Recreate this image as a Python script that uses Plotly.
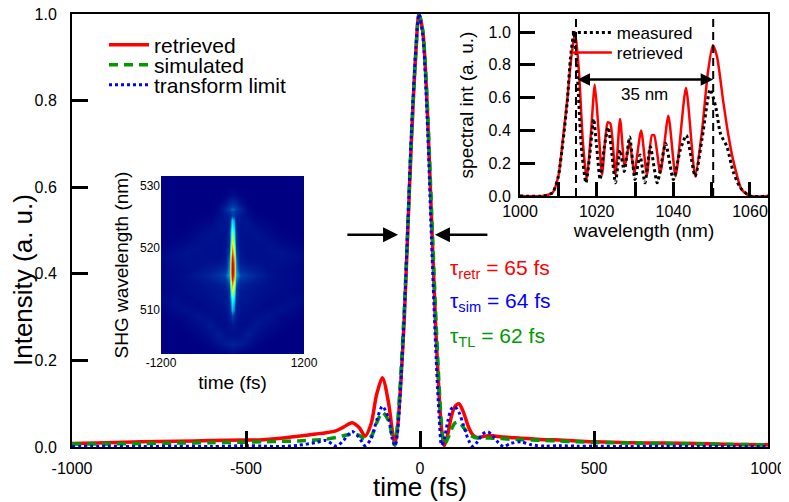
import plotly.graph_objects as go

# ---------------- main temporal profiles ----------------
t_fs = [-1000, -900, -800, -700, -600, -500, -450, -400, -350, -300,
        -270, -240, -220, -195, -175, -158, -140, -125, -108, -90,
        -80, -72, -65, -55, -45, -37, -25, -12, -3, 8,
        20, 33, 45, 55, 62, 70, 80, 90, 100, 112,
        125, 140, 152, 165, 180, 195, 210, 225, 240, 260,
        290, 320, 360, 400, 450, 500, 600, 700, 800, 900, 1000]
retrieved = [0.008, 0.010, 0.012, 0.013, 0.015, 0.016, 0.017, 0.020, 0.025, 0.030,
             0.033, 0.038, 0.046, 0.056, 0.045, 0.025, 0.055, 0.12, 0.16, 0.10,
             0.04, 0.008, 0.04, 0.15, 0.30, 0.46, 0.70, 0.91, 1.0, 0.96,
             0.80, 0.53, 0.28, 0.12, 0.04, 0.003, 0.03, 0.07, 0.093, 0.10,
             0.08, 0.045, 0.028, 0.022, 0.024, 0.026, 0.026, 0.024, 0.023, 0.022,
             0.020, 0.019, 0.017, 0.016, 0.014, 0.012, 0.010, 0.009, 0.008, 0.006, 0.005]
simulated = [0.007, 0.007, 0.008, 0.009, 0.010, 0.011, 0.012, 0.013, 0.014, 0.016,
             0.018, 0.022, 0.026, 0.030, 0.027, 0.018, 0.025, 0.055, 0.08, 0.06,
             0.025, 0.004, 0.05, 0.17, 0.32, 0.47, 0.71, 0.91, 1.0, 0.96,
             0.81, 0.55, 0.31, 0.14, 0.05, 0.006, 0.02, 0.04, 0.055, 0.058,
             0.045, 0.03, 0.024, 0.021, 0.021, 0.021, 0.020, 0.020, 0.019, 0.018,
             0.017, 0.016, 0.015, 0.014, 0.012, 0.011, 0.009, 0.008, 0.007, 0.006, 0.005]
transform_limit = [0.001, 0.002, 0.001, 0.002, 0.001, 0.003, 0.002, 0.001, 0.004, 0.010,
                   0.015, 0.002, 0.015, 0.036, 0.022, 0.003, 0.02, 0.06, 0.094, 0.065,
                   0.02, 0.002, 0.03, 0.15, 0.31, 0.47, 0.72, 0.92, 1.0, 0.95,
                   0.77, 0.48, 0.23, 0.07, 0.004, 0.02, 0.06, 0.088, 0.093, 0.08,
                   0.05, 0.015, 0.001, 0.012, 0.03, 0.035, 0.025, 0.01, 0.001, 0.008,
                   0.012, 0.005, 0.002, 0.003, 0.002, 0.002, 0.001, 0.002, 0.001, 0.001, 0.001]
main_xticks = [-1000, -500, 0, 500, 1000]
main_xticktext = ["-1000", "-500", "0", "500", "1000"]
main_yticks = [0.0, 0.2, 0.4, 0.6, 0.8, 1.0]

# FWHM markers (arrows) and durations
fwhm_level = 0.49
fwhm_left_arrow = (-213, -63)   # tail, head (fs)
fwhm_right_arrow = (198, 43)
durations = [("retr", 65, "red"), ("sim", 64, "blue"), ("TL", 62, "#009a00")]

# ---------------- spectral inset ----------------
spec_nm_retr = [1000, 1006, 1008.5, 1010, 1011.2, 1012.3, 1013.4, 1014.4, 1015.4, 1016.4,
                1017.4, 1018.5, 1019.5, 1020.5, 1021.4, 1022.3, 1022.9, 1023.6, 1024.9, 1026.1,
                1027.3, 1028.6, 1029.8, 1031.6, 1033.1, 1034.4, 1035.0, 1036.6, 1038.7, 1040.6,
                1043.3, 1045.7, 1047.5, 1049.0, 1050.3, 1051.4, 1053.0, 1054.3, 1055.6, 1057.8,
                1060, 1065]
spec_retr = [0, 0, 0.02, 0.12, 0.35, 0.58, 0.85, 1.0, 0.75, 0.33,
             0.10, 0.38, 0.68, 0.40, 0.13, 0.36, 0.45, 0.44, 0.13, 0.47,
             0.18, 0.33, 0.14, 0.40, 0.13, 0.37, 0.37, 0.14, 0.49, 0.12,
             0.66, 0.12, 0.40, 0.75, 0.92, 0.85, 0.58, 0.38, 0.22, 0.04,
             0.0, 0.0]
spec_nm_meas = [1000, 1006, 1008.5, 1010, 1011.2, 1012.3, 1013.2, 1014.1, 1015.0, 1016.0,
                1017.2, 1018.2, 1019.2, 1020.0, 1020.9, 1022.0, 1023.0, 1024.0, 1024.9, 1026.1,
                1027.2, 1028.6, 1030.0, 1031.3, 1032.6, 1034.0, 1035.8, 1038.0, 1040.0, 1041.8,
                1043.4, 1045.7, 1047.5, 1049.6, 1051.0, 1052.3, 1054.0, 1055.6, 1057.5, 1060,
                1065]
spec_meas = [0, 0, 0.02, 0.12, 0.33, 0.57, 0.85, 1.0, 0.72, 0.30,
             0.08, 0.25, 0.47, 0.30, 0.10, 0.30, 0.42, 0.25, 0.08, 0.28,
             0.15, 0.36, 0.10, 0.25, 0.08, 0.30, 0.08, 0.32, 0.10, 0.28,
             0.37, 0.12, 0.35, 0.65, 0.55, 0.38, 0.30, 0.15, 0.05, 0.0,
             0.0]
spec_markers_nm = [1014.6, 1050.4]
bandwidth_level = 0.71
bandwidth_label = "35 nm"
spec_xticks = [1000, 1020, 1040, 1060]
spec_yticks = [0.0, 0.2, 0.4, 0.6, 0.8, 1.0]

# ---------------- SHG FROG trace inset ----------------
shg_t = [-1200, -1000, -800, -600, -400, -250, -130, -60, -30, 0, 30, 60, 130, 250, 400, 600, 800, 1000, 1200]
shg_wl = [503.0, 504.5, 506.0, 507.5, 509.0, 510.0, 511.0, 512.0, 513.0, 514.0,
          515.0, 515.7, 516.5, 517.5, 518.5, 519.5, 520.5, 521.5, 522.5, 523.5,
          524.5, 525.3, 526.2, 527.2, 528.5, 530.0, 531.6]
shg_z = [
    [0, 0, 0, 0, 0, 0, 0.01, 0.02, 0.03, 0.03, 0.03, 0.02, 0.01, 0, 0, 0, 0, 0, 0],
    [0, 0, 0, 0, 0.02, 0.06, 0.09, 0.10, 0.11, 0.11, 0.11, 0.10, 0.09, 0.06, 0.02, 0, 0, 0, 0],
    [0, 0, 0, 0.02, 0.05, 0.09, 0.06, 0.05, 0.05, 0.05, 0.05, 0.05, 0.06, 0.09, 0.05, 0.02, 0, 0, 0],
    [0, 0, 0.02, 0.04, 0.08, 0.05, 0.04, 0.06, 0.07, 0.08, 0.07, 0.06, 0.04, 0.05, 0.08, 0.04, 0.02, 0, 0],
    [0, 0.02, 0.03, 0.07, 0.05, 0.04, 0.05, 0.08, 0.15, 0.20, 0.15, 0.08, 0.05, 0.04, 0.05, 0.07, 0.03, 0.02, 0],
    [0.01, 0.03, 0.06, 0.04, 0.04, 0.05, 0.06, 0.10, 0.26, 0.33, 0.26, 0.10, 0.06, 0.05, 0.04, 0.04, 0.06, 0.03, 0.01],
    [0.02, 0.05, 0.04, 0.03, 0.05, 0.06, 0.07, 0.12, 0.31, 0.38, 0.31, 0.12, 0.07, 0.06, 0.05, 0.03, 0.04, 0.05, 0.02],
    [0.03, 0.04, 0.03, 0.04, 0.05, 0.07, 0.08, 0.14, 0.37, 0.45, 0.37, 0.14, 0.08, 0.07, 0.05, 0.04, 0.03, 0.04, 0.03],
    [0.02, 0.03, 0.04, 0.05, 0.06, 0.07, 0.09, 0.17, 0.47, 0.58, 0.47, 0.17, 0.09, 0.07, 0.06, 0.05, 0.04, 0.03, 0.02],
    [0.02, 0.03, 0.04, 0.05, 0.07, 0.09, 0.12, 0.22, 0.55, 0.68, 0.55, 0.22, 0.12, 0.09, 0.07, 0.05, 0.04, 0.03, 0.02],
    [0.02, 0.03, 0.05, 0.07, 0.10, 0.14, 0.18, 0.28, 0.65, 0.80, 0.65, 0.28, 0.18, 0.14, 0.10, 0.06, 0.04, 0.03, 0.02],
    [0.02, 0.03, 0.05, 0.08, 0.12, 0.17, 0.22, 0.32, 0.70, 0.86, 0.70, 0.32, 0.22, 0.17, 0.12, 0.07, 0.04, 0.03, 0.02],
    [0.02, 0.03, 0.04, 0.06, 0.09, 0.12, 0.16, 0.30, 0.72, 0.88, 0.72, 0.30, 0.16, 0.12, 0.09, 0.05, 0.04, 0.03, 0.02],
    [0.02, 0.04, 0.05, 0.05, 0.06, 0.07, 0.10, 0.28, 0.70, 0.86, 0.70, 0.28, 0.10, 0.07, 0.06, 0.05, 0.05, 0.04, 0.02],
    [0.03, 0.05, 0.06, 0.05, 0.05, 0.05, 0.08, 0.25, 0.65, 0.80, 0.65, 0.25, 0.08, 0.05, 0.05, 0.05, 0.06, 0.05, 0.03],
    [0.02, 0.04, 0.06, 0.06, 0.05, 0.05, 0.07, 0.20, 0.58, 0.72, 0.58, 0.20, 0.07, 0.05, 0.05, 0.06, 0.06, 0.04, 0.02],
    [0.01, 0.02, 0.04, 0.06, 0.05, 0.05, 0.06, 0.16, 0.52, 0.64, 0.52, 0.16, 0.06, 0.05, 0.05, 0.06, 0.04, 0.02, 0.01],
    [0, 0.01, 0.02, 0.05, 0.06, 0.05, 0.06, 0.13, 0.45, 0.56, 0.45, 0.13, 0.06, 0.05, 0.06, 0.05, 0.02, 0.01, 0],
    [0, 0, 0.01, 0.03, 0.06, 0.06, 0.06, 0.12, 0.40, 0.50, 0.40, 0.12, 0.06, 0.06, 0.06, 0.03, 0.01, 0, 0],
    [0, 0, 0, 0.02, 0.04, 0.07, 0.06, 0.11, 0.34, 0.42, 0.34, 0.11, 0.06, 0.07, 0.04, 0.02, 0, 0, 0],
    [0, 0, 0, 0.01, 0.02, 0.06, 0.07, 0.10, 0.29, 0.36, 0.29, 0.10, 0.07, 0.06, 0.02, 0.01, 0, 0, 0],
    [0, 0, 0, 0, 0.01, 0.04, 0.08, 0.12, 0.16, 0.18, 0.16, 0.12, 0.08, 0.04, 0.01, 0, 0, 0, 0],
    [0, 0, 0, 0, 0, 0.03, 0.12, 0.20, 0.23, 0.24, 0.23, 0.20, 0.12, 0.03, 0, 0, 0, 0, 0],
    [0, 0, 0, 0, 0, 0.01, 0.06, 0.12, 0.14, 0.15, 0.14, 0.12, 0.06, 0.01, 0, 0, 0, 0, 0],
    [0, 0, 0, 0, 0, 0, 0.01, 0.03, 0.04, 0.04, 0.04, 0.03, 0.01, 0, 0, 0, 0, 0, 0],
    [0] * 19,
    [0] * 19,
]
shg_xticks = [-1200, 1200]
shg_xticktext = ["-1200", "1200"]
shg_yticks = [510, 520, 530]

FONT = "Liberation Sans, Arial, Helvetica, sans-serif"
GREEN = "#009a00"

fig = go.Figure()

# main curves
fig.add_trace(go.Scatter(x=t_fs, y=retrieved, name="retrieved", mode="lines",
                         line=dict(color="red", width=3.5, shape="spline", smoothing=0.8),
                         legend="legend", xaxis="x", yaxis="y"))
fig.add_trace(go.Scatter(x=t_fs, y=simulated, name="simulated", mode="lines",
                         line=dict(color=GREEN, width=3.5, dash="9px,6px", shape="spline", smoothing=0.8),
                         legend="legend2", xaxis="x", yaxis="y"))
fig.add_trace(go.Scatter(x=t_fs, y=transform_limit, name="transform limit", mode="lines",
                         line=dict(color="blue", width=3, dash="dot", shape="spline", smoothing=0.8),
                         legend="legend3", xaxis="x", yaxis="y"))

# spectral inset
fig.add_trace(go.Scatter(x=spec_nm_retr, y=spec_retr, name="retrieved", mode="lines",
                         line=dict(color="red", width=2.5, shape="spline", smoothing=0.6),
                         legend="legend5", xaxis="x2", yaxis="y2"))
fig.add_trace(go.Scatter(x=spec_nm_meas, y=spec_meas, name="measured", mode="lines",
                         line=dict(color="black", width=3, dash="dot", shape="spline", smoothing=0.6),
                         legend="legend4", xaxis="x2", yaxis="y2"))

# SHG trace
fig.add_trace(go.Heatmap(x=shg_t, y=shg_wl, z=shg_z, colorscale="Jet", zmin=0, zmax=1,
                         zsmooth="best", showscale=False, xaxis="x3", yaxis="y3",
                         hoverinfo="skip"))

# dashed spectral markers
for nm in spec_markers_nm:
    fig.add_shape(type="line", xref="x2", yref="y2", x0=nm, x1=nm, y0=0, y1=1.11,
                  line=dict(color="black", width=2, dash="8px,5px"))

annotations = []
# bandwidth arrow
annotations.append(dict(xref="x2", yref="y2", axref="x2", ayref="y2",
                        x=spec_markers_nm[1], y=bandwidth_level,
                        ax=spec_markers_nm[0], ay=bandwidth_level,
                        text="", showarrow=True, arrowside="end+start",
                        arrowhead=2, startarrowhead=2, arrowsize=1, startarrowsize=1,
                        arrowwidth=2.5, arrowcolor="black", standoff=0, startstandoff=0))
annotations.append(dict(xref="x2", yref="y2", x=(spec_markers_nm[0] + spec_markers_nm[1]) / 2,
                        y=0.62, text=bandwidth_label, showarrow=False,
                        font=dict(family=FONT, size=17, color="black")))
# FWHM arrows
for tail, head in (fwhm_left_arrow, fwhm_right_arrow):
    annotations.append(dict(xref="x", yref="y", axref="x", ayref="y",
                            x=head, y=fwhm_level, ax=tail, ay=fwhm_level,
                            text="", showarrow=True, arrowhead=2, arrowsize=1.2,
                            arrowwidth=2.5, arrowcolor="black", standoff=0))
# durations
dur_y = [0.41, 0.336, 0.255]
for (lab, val, col), yy in zip(durations, dur_y):
    annotations.append(dict(xref="x", yref="y", x=80, y=yy, xanchor="left", yanchor="middle",
                            text=f"τ<sub>{lab}</sub> = {val} fs", showarrow=False,
                            font=dict(family=FONT, size=21, color=col)))
# main axis titles
annotations.append(dict(xref="paper", yref="paper", x=-0.0704, y=0.3857, textangle=-90,
                        text="Intensity (a. u.)", showarrow=False, xanchor="center", yanchor="middle",
                        font=dict(family=FONT, size=26, color="black")))
annotations.append(dict(xref="paper", yref="paper", x=0.5, y=-0.0924,
                        text="time (fs)", showarrow=False, xanchor="center", yanchor="middle",
                        font=dict(family=FONT, size=26, color="black")))

def leg(x, y, size):
    return dict(x=x, y=y, xanchor="left", yanchor="middle", bgcolor="rgba(0,0,0,0)",
                font=dict(family=FONT, size=size, color="black"), itemwidth=40,
                borderwidth=0)

# page body has an 8px default margin; the figure is sized so the plot lands
# at the same pixels as the reference inside the 789x502 window
fig.update_layout(
    width=781, height=494,
    margin=dict(l=64, r=21, t=6, b=55, autoexpand=False),
    paper_bgcolor="white", plot_bgcolor="white",
    font=dict(family=FONT, color="black"),
    showlegend=True,
    legend=leg(0.046, 0.9284, 21),
    legend2=leg(0.046, 0.8822, 21),
    legend3=leg(0.046, 0.836, 21),
    legend4=leg(0.711, 0.956, 17),
    legend5=leg(0.711, 0.91, 17),
    xaxis=dict(domain=[0, 1], range=[-1000, 1000], tickvals=main_xticks, ticktext=main_xticktext,
               ticks="inside", ticklen=16, tickwidth=2.5, tickcolor="black",
               showline=True, linewidth=2, linecolor="black", mirror=True,
               showgrid=False, zeroline=False, tickfont=dict(family=FONT, size=16),
               ticklabelstandoff=6, ticklabeloverflow="allow", anchor="y", automargin=False),
    yaxis=dict(domain=[0, 1], range=[0, 1.0], tickvals=main_yticks, tickformat=".1f",
               ticks="inside", ticklen=16, tickwidth=2.5, tickcolor="black",
               showline=True, linewidth=2, linecolor="black", mirror=True,
               showgrid=False, zeroline=False, tickfont=dict(family=FONT, size=16),
               ticklabelstandoff=10, ticklabeloverflow="allow", anchor="x", automargin=False),
    xaxis2=dict(domain=[0.6437, 1.0], range=[1000, 1064.7], tickvals=spec_xticks,
                ticks="inside", ticklen=14, tickwidth=2.5, tickcolor="black",
                minor=dict(dtick=10, tick0=1000, ticks="inside", ticklen=14, tickwidth=2.5,
                           tickcolor="black"),
                showline=True, linewidth=2, linecolor="black", showgrid=False, zeroline=False,
                tickfont=dict(family=FONT, size=16), anchor="y2", automargin=False,
                title=dict(text="wavelength (nm)", font=dict(family=FONT, size=19), standoff=4)),
    yaxis2=dict(domain=[0.5797, 1.0], range=[0, 1.11], tickvals=spec_yticks, tickformat=".1f",
                ticks="inside", ticklen=15, tickwidth=2.5, tickcolor="black",
                showline=True, linewidth=2, linecolor="black", showgrid=False, zeroline=False,
                tickfont=dict(family=FONT, size=16), anchor="x2", ticklabelstandoff=4,
                automargin=False,
                title=dict(text="spectral int (a. u.)", font=dict(family=FONT, size=19), standoff=10)),
    xaxis3=dict(domain=[0.1279, 0.3333], range=[-1200, 1200], tickvals=shg_xticks,
                ticktext=shg_xticktext,
                ticks="", showline=False, showgrid=False, zeroline=False,
                tickfont=dict(family=FONT, size=12), anchor="y3", automargin=False,
                title=dict(text="time (fs)", font=dict(family=FONT, size=19), standoff=6)),
    yaxis3=dict(domain=[0.2148, 0.6259], range=[502.9, 531.6], tickvals=shg_yticks,
                ticks="", showline=False, showgrid=False, zeroline=False,
                tickfont=dict(family=FONT, size=12), anchor="x3", automargin=False,
                title=dict(text="SHG wavelength (nm)", font=dict(family=FONT, size=19), standoff=6)),
    annotations=annotations,
)

fig.write_html("out.html")
